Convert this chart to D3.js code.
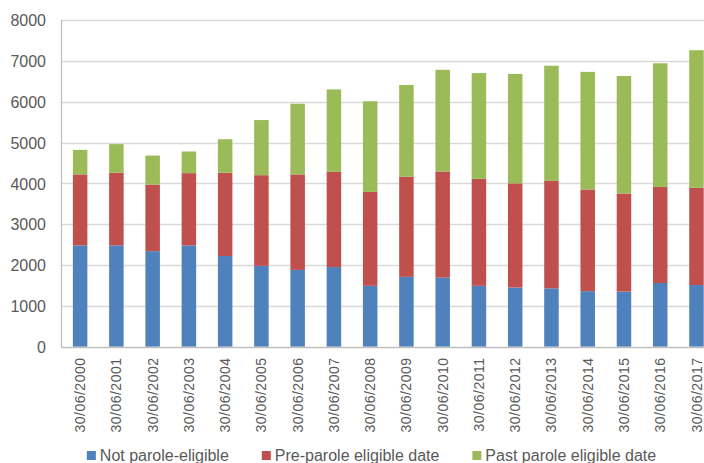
<!DOCTYPE html>
<html>
<head>
<meta charset="utf-8">
<script src="https://cdn.jsdelivr.net/npm/d3@7/dist/d3.min.js"></script>
<style>
  html, body { margin: 0; padding: 0; background: #fff; }
  svg { display: block; font-family: "Liberation Sans", Arial, sans-serif; }
</style>
</head>
<body>
<svg id="chart" width="704" height="463"></svg>
<script>
// Prisoner counts at 30 June each year, split by parole status
const categories = [
  "30/06/2000", "30/06/2001", "30/06/2002", "30/06/2003", "30/06/2004", "30/06/2005",
  "30/06/2006", "30/06/2007", "30/06/2008", "30/06/2009", "30/06/2010", "30/06/2011",
  "30/06/2012", "30/06/2013", "30/06/2014", "30/06/2015", "30/06/2016", "30/06/2017"
];
const notEligible = [2480, 2480, 2340, 2480, 2220, 1980, 1880, 1950, 1490, 1710, 1690, 1490, 1450, 1430, 1360, 1350, 1560, 1510];
const preParole   = [1740, 1780, 1630, 1770, 2040, 2220, 2340, 2330, 2300, 2450, 2600, 2620, 2550, 2630, 2490, 2400, 2350, 2380];
const pastParole  = [ 600,  700,  710,  530,  820, 1350, 1730, 2020, 2220, 2250, 2490, 2590, 2680, 2820, 2880, 2880, 3030, 3370];
const seriesNames = ["Not parole-eligible", "Pre-parole eligible date", "Past parole eligible date"];
const seriesColors = ["#4F81BD", "#C0504D", "#9BBB59"];
const yTicks = [0, 1000, 2000, 3000, 4000, 5000, 6000, 7000, 8000];

const svg = d3.select("#chart");
const plot = { left: 62, right: 714.6, top: 20, bottom: 346.7 };

const rows = categories.map((c, i) => ({
  cat: c, s0: notEligible[i], s1: preParole[i], s2: pastParole[i]
}));
const stacked = d3.stack().keys(["s0", "s1", "s2"])(rows);

const x = d3.scaleBand()
  .domain(categories)
  .range([plot.left, plot.right])
  .paddingInner(0.6)
  .paddingOuter(0.3);

const y = d3.scaleLinear()
  .domain([0, 8000])
  .range([plot.bottom, plot.top]);

// horizontal gridlines
svg.append("g")
  .selectAll("line")
  .data(yTicks.filter(t => t > 0))
  .join("line")
  .attr("x1", plot.left - 1)
  .attr("x2", 704)
  .attr("y1", d => Math.round(y(d)) + 0.5)
  .attr("y2", d => Math.round(y(d)) + 0.5)
  .attr("stroke", "#d9d9d9")
  .attr("stroke-width", 1.3);

// stacked bars
svg.append("g")
  .selectAll("g")
  .data(stacked)
  .join("g")
  .attr("fill", (d, i) => seriesColors[i])
  .selectAll("rect")
  .data(d => d)
  .join("rect")
  .attr("x", d => x(d.data.cat))
  .attr("width", x.bandwidth())
  .attr("y", d => y(d[1]))
  .attr("height", d => y(d[0]) - y(d[1]));

// y axis
const yAxis = svg.append("g")
  .attr("transform", `translate(${plot.left - 1},0)`)
  .call(d3.axisLeft(y).tickValues(yTicks).tickSize(0).tickPadding(15).tickFormat(d3.format("d")));
yAxis.select(".domain")
  .attr("stroke", "#bfbfbf")
  .attr("stroke-width", 1.3)
  .attr("d", `M0.5,${plot.top}V${plot.bottom}`);
yAxis.selectAll("text")
  .attr("fill", "#595959")
  .style("font-size", "16px")
  .attr("dy", "0.36em");

// x axis
const xAxis = svg.append("g")
  .attr("transform", `translate(0,${Math.round(plot.bottom) + 0.5})`)
  .call(d3.axisBottom(x).tickSize(0).tickPadding(0));
xAxis.select(".domain")
  .attr("stroke", "#bfbfbf")
  .attr("stroke-width", 1.3)
  .attr("d", `M${plot.left - 1},0H704`);
xAxis.selectAll("text")
  .attr("fill", "#595959")
  .style("font-size", "14px")
  .style("letter-spacing", "0.5px")
  .attr("text-anchor", "end")
  .attr("transform", "rotate(-90)")
  .attr("x", -10)
  .attr("y", 0)
  .attr("dy", "0.36em");

// legend
const legend = svg.append("g").attr("transform", "translate(0,455.5)");
const items = legend.selectAll("g")
  .data(seriesNames)
  .join("g");
items.append("rect")
  .attr("width", 9)
  .attr("height", 9)
  .attr("y", -4.5)
  .attr("fill", (d, i) => seriesColors[i]);
items.append("text")
  .attr("x", 13)
  .attr("dy", "0.36em")
  .attr("fill", "#595959")
  .style("font-size", "16px")
  .text(d => d);

let offset = 0;
const widths = [];
items.each(function () {
  const w = 13 + this.querySelector("text").getComputedTextLength();
  widths.push(w);
});
const gap = 33;
const total = d3.sum(widths) + gap * (widths.length - 1);
let startX = 371.5 - total / 2;
items.attr("transform", (d, i) => {
  const tx = startX + offset;
  offset += widths[i] + gap;
  return `translate(${tx},0)`;
});
</script>
</body>
</html>
